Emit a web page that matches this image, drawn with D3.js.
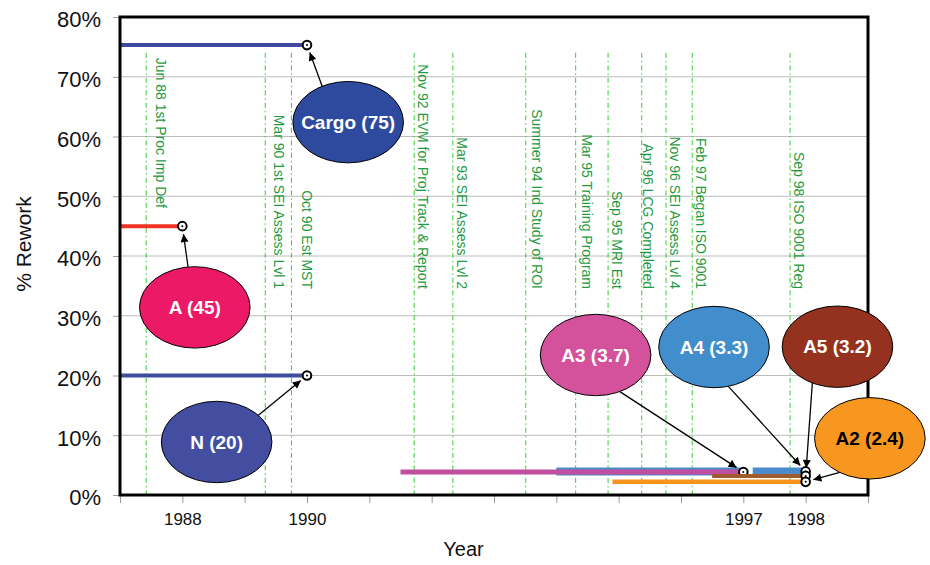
<!DOCTYPE html>
<html>
<head>
<meta charset="utf-8">
<script src="https://cdnjs.cloudflare.com/ajax/libs/d3/7.8.5/d3.min.js"></script>
<style>
body { margin: 0; background: #fff; }
svg { font-family: Arial, "Liberation Sans", sans-serif; }
</style>
</head>
<body>
<div id="chart"></div>
<script>
// Axis ticks
var years = [1987, 1988, 1989, 1990, 1991, 1992, 1993, 1994, 1995, 1996, 1997, 1998, 1999];
var yearLabels = ["", "1988", "", "1990", "", "", "", "", "", "", "1997", "1998", ""];
var yTicks = [0, 10, 20, 30, 40, 50, 60, 70, 80];

// Series: % rework lines, each ends at its marker
var seriesNames = ["Cargo", "A", "N", "A4", "A3", "A5", "A2"];
var seriesStart = [1987, 1987, 1987, 1994, 1991.5, 1996.5, 1994.9];
var seriesEnd = [1990, 1988, 1990, 1998, 1997, 1998, 1998];
var seriesValue = [75.3, 45, 20, 3.95, 3.85, 3.2, 2.2];
var seriesLabelValue = ["75", "45", "20", "3.3", "3.7", "3.2", "2.4"];
var a4Gap = [1996.95, 1997.15];

// Milestones (vertical lines)
var eventNames = ["Jun 88 1st Proc Imp Def", "Mar 90 1st SEI Assess Lvl 1", "Oct 90 Est MST",
	"Nov 92 EVM for Proj Track & Report", "Mar 93 SEI Assess Lvl 2", "Summer 94 Ind Study of ROI",
	"Mar 95 Training Program", "Sep 95 MRI Est", "Apr 96 LCG Completed", "Nov 96 SEI Assess Lvl 4",
	"Feb 97 Began ISO 9001", "Sep 98 ISO 9001 Reg"];
var eventYear = [1987.42, 1989.33, 1989.75, 1991.72, 1992.34, 1993.51, 1994.31, 1994.83, 1995.37, 1995.76, 1996.18, 1997.75];

// Styles / layout
var lineColors = ["#3f4a9e", "#ee3322", "#3f4da0", "#4b8bcb", "#c04fa0", "#a05a2c", "#f7941d"];
var lineWidths = [4, 4, 4, 8, 5, 4, 4.5];
var bubbleFill = ["#2e4a9e", "#ec1a66", "#434ea0", "#428dcc", "#d4519c", "#95321f", "#f7971f"];
var bubbleText = ["#fff", "#fff", "#fff", "#fff", "#fff", "#fff", "#000"];
// bubble centre in data units, arrow start angle on the ellipse
var bubbles = [
	{cx: 1990.66, cy: 62.4, a: -118},
	{cx: 1988.20, cy: 31.4, a: -97},
	{cx: 1988.55, cy: 8.87, a: -41},
	{cx: 1996.53, cy: 24.77, a: 75},
	{cx: 1994.63, cy: 23.43, a: 64},
	{cx: 1998.51, cy: 24.82, a: 117},
	{cx: 1999.03, cy: 9.49, a: 123}
];
var eventShift = [10, 9, 11, 4, 4, 6, 6, 4, 1, 4, 4, 4];

var W = 930, H = 565;
var plotL = 120, plotR = 868, plotT = 17, plotB = 495;

var x = d3.scaleLinear().domain([1987, 1999]).range([plotL, plotR]);
var y = d3.scaleLinear().domain([0, 80]).range([plotB, plotT]);

var svg = d3.select("#chart").append("svg").attr("width", W).attr("height", H);

svg.append("defs").append("marker")
	.attr("id", "arrow")
	.attr("viewBox", "0 0 10 10")
	.attr("refX", 10).attr("refY", 5)
	.attr("markerWidth", 9).attr("markerHeight", 8)
	.attr("markerUnits", "userSpaceOnUse")
	.attr("orient", "auto")
	.append("path").attr("d", "M0,0L10,5L0,10z").attr("fill", "#000");

// gridlines
svg.append("g").selectAll("line")
	.data(yTicks.filter(function(d){ return d > 0 && d < 80; }))
	.enter().append("line")
	.attr("x1", plotL).attr("x2", plotR)
	.attr("y1", function(d){ return y(d); })
	.attr("y2", function(d){ return y(d); })
	.attr("stroke", "#bbb").attr("stroke-width", 1);

// axes
var yAxis = d3.axisLeft(y).tickValues(yTicks).tickSize(7).tickPadding(12)
	.tickFormat(function(d){ return d + "%"; });
var gy = svg.append("g").attr("transform", "translate(" + plotL + ",0)").call(yAxis);
gy.select(".domain").remove();
gy.selectAll("line").attr("stroke", "#999");
gy.selectAll("text").attr("font-size", 22).attr("fill", "#111").attr("dy", "0.45em")
	.attr("font-family", "Arial, 'Liberation Sans', sans-serif");

var xAxis = d3.axisBottom(x).tickValues(years).tickSize(8).tickPadding(10)
	.tickFormat(function(d, i){ return yearLabels[i]; });
var gx = svg.append("g").attr("transform", "translate(0," + plotB + ")").call(xAxis);
gx.select(".domain").remove();
gx.selectAll("line").attr("stroke", "#999");
gx.selectAll("text").attr("font-size", 17).attr("fill", "#111")
	.attr("font-family", "Arial, 'Liberation Sans', sans-serif");

// milestone lines and labels
svg.append("g").selectAll("line")
	.data(eventYear)
	.enter().append("line")
	.attr("x1", function(d){ return x(d); })
	.attr("x2", function(d){ return x(d); })
	.attr("y1", y(74)).attr("y2", y(0))
	.attr("stroke", "#33cc33").attr("stroke-width", 1)
	.attr("stroke-dasharray", "5,3,1.5,3");

svg.append("g").selectAll("text")
	.data(eventNames)
	.enter().append("text")
	.attr("transform", function(d, i){
		var ty = i == 0 ? 208 : 289;
		return "translate(" + (x(eventYear[i]) + eventShift[i]) + "," + ty + ") rotate(90)";
	})
	.attr("text-anchor", "end")
	.attr("font-size", 14)
	.attr("fill", "#1f9a40")
	.text(function(d){ return d; });

// series lines + end markers
var line = d3.line()
	.defined(function(d){ return d != null; })
	.x(function(d){ return x(d[0]); })
	.y(function(d){ return y(d[1]); });

var pointsFor = function(i) {
	var v = seriesValue[i];
	if (seriesNames[i] == "A4") {
		return [[seriesStart[i], v], [a4Gap[0], v], null, [a4Gap[1], v], [seriesEnd[i], v]];
	}
	return [[seriesStart[i], v], [seriesEnd[i], v]];
};

var gs = svg.append("g");
seriesNames.forEach(function(name, i){
	gs.append("path")
		.attr("d", line(pointsFor(i)))
		.attr("fill", "none")
		.attr("stroke", lineColors[i])
		.attr("stroke-width", lineWidths[i]);
	gs.append("circle")
		.attr("cx", x(seriesEnd[i])).attr("cy", y(seriesValue[i]))
		.attr("r", 4.3)
		.attr("fill", "#fff").attr("stroke", "#000").attr("stroke-width", 2);
	gs.append("circle")
		.attr("cx", x(seriesEnd[i])).attr("cy", y(seriesValue[i]))
		.attr("r", 1).attr("fill", "#000");
});

// frame
svg.append("rect")
	.attr("x", plotL).attr("y", plotT)
	.attr("width", plotR - plotL).attr("height", plotB - plotT)
	.attr("fill", "none").attr("stroke", "#000").attr("stroke-width", 3);

// callout bubbles with arrows
var rx = 55.3, ry = 40.7;
var gb = svg.append("g");
seriesNames.forEach(function(name, i){
	var b = bubbles[i];
	var cx = x(b.cx), cy = y(b.cy);
	var t = b.a * Math.PI / 180;
	var sx = cx + rx * Math.cos(t), sy = cy + ry * Math.sin(t);
	var mx = x(seriesEnd[i]), my = y(seriesValue[i]);
	var dx = sx - mx, dy = sy - my, len = Math.sqrt(dx * dx + dy * dy);
	var ex = mx + dx / len * 8, ey = my + dy / len * 8;

	gb.append("line")
		.attr("x1", sx).attr("y1", sy).attr("x2", ex).attr("y2", ey)
		.attr("stroke", "#000").attr("stroke-width", 1.3)
		.attr("marker-end", "url(#arrow)");
	gb.append("ellipse")
		.attr("cx", cx).attr("cy", cy).attr("rx", rx).attr("ry", ry)
		.attr("fill", bubbleFill[i]).attr("stroke", "#000").attr("stroke-width", 1);
	gb.append("text")
		.attr("x", cx).attr("y", cy).attr("dy", "0.35em")
		.attr("text-anchor", "middle")
		.attr("font-size", 19).attr("font-weight", "bold")
		.attr("fill", bubbleText[i])
		.text(name + " (" + seriesLabelValue[i] + ")");
});

// axis titles
svg.append("text")
	.attr("transform", "translate(31,244) rotate(-90)")
	.attr("text-anchor", "middle")
	.attr("font-size", 21).attr("fill", "#111")
	.text("% Rework");

svg.append("text")
	.attr("x", 463.5).attr("y", 556)
	.attr("text-anchor", "middle")
	.attr("font-size", 20).attr("fill", "#111")
	.text("Year");
</script>
</body>
</html>
